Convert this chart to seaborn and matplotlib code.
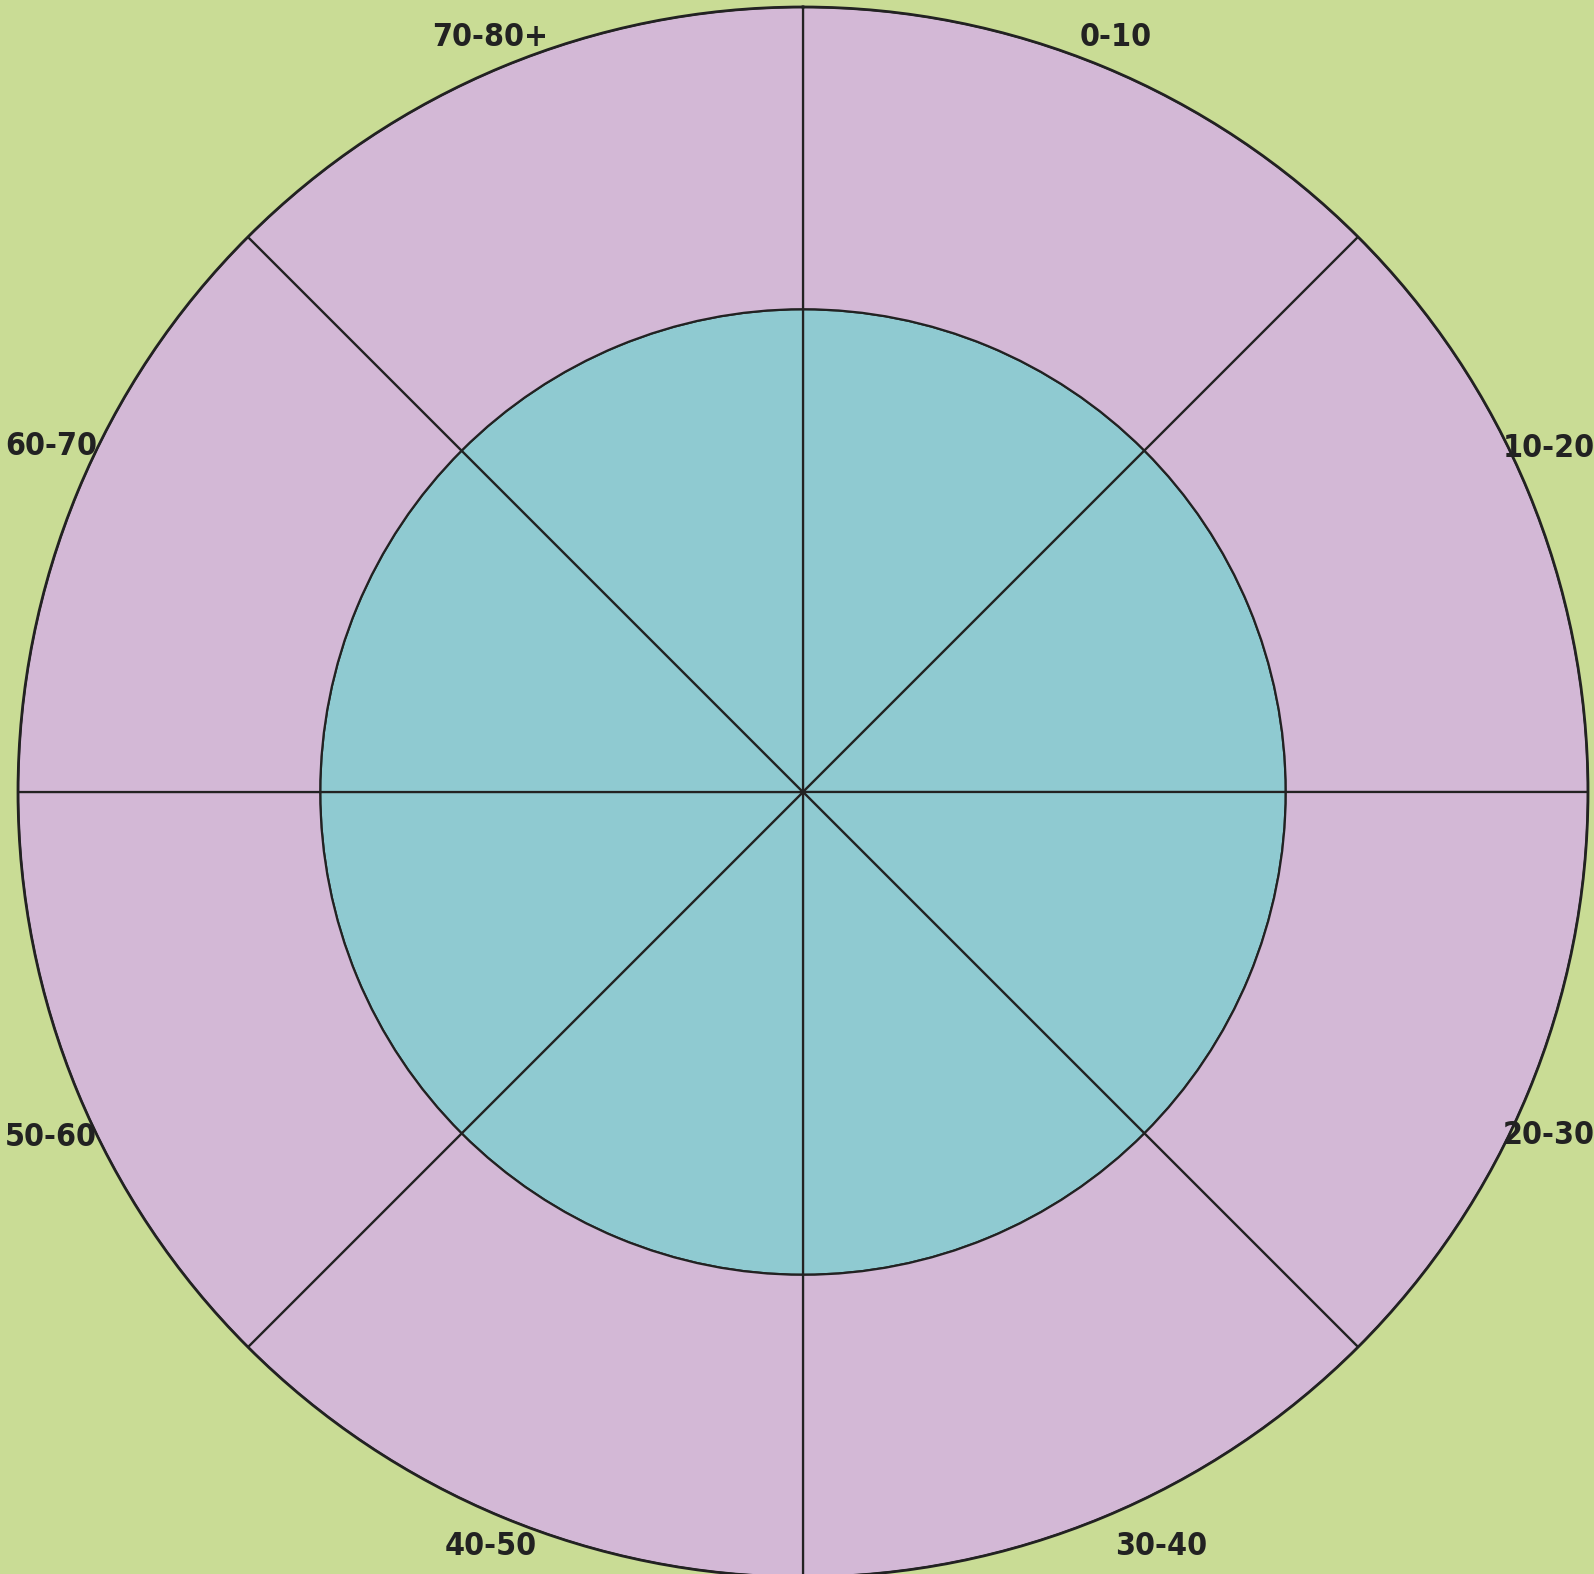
import numpy as np
import matplotlib
matplotlib.use("Agg")
import matplotlib.pyplot as plt
import seaborn as sns

# data
age_groups = ['0-10', '10-20', '20-30', '30-40', '40-50', '50-60', '60-70', '70-80+']
inner_vals = [61.5, 61.5, 61.5, 61.5, 61.5, 61.5, 61.5, 61.5]
outer_vals = [38.5, 38.5, 38.5, 38.5, 38.5, 38.5, 38.5, 38.5]

bg = '#c9dc95'
inner_col = '#8fcad1'
outer_col = '#d3b8d6'

sns.set_style('white')
plt.rcParams['font.family'] = ['DejaVu Sans']

fig = plt.figure(figsize=(15.94, 15.74), dpi=100, facecolor=bg)
ax = fig.add_axes([18 / 1594, -3 / 1574, 1570 / 1594, 1570 / 1574], projection='polar')
ax.set_facecolor(bg)
ax.set_theta_zero_location('N')
ax.set_theta_direction(-1)

n = len(age_groups)
theta = np.arange(n) * 2 * np.pi / n + np.pi / n
width = 2 * np.pi / n

ax.bar(theta, inner_vals, width=width, color=inner_col, edgecolor='#222222', linewidth=1.6)
ax.bar(theta, outer_vals, width=width, bottom=inner_vals, color=outer_col,
       edgecolor='#222222', linewidth=1.6)

rmax = max(i + o for i, o in zip(inner_vals, outer_vals))
ax.set_ylim(0, rmax)
ax.set_xticks([])
ax.set_yticks([])
ax.grid(False)
ax.spines['polar'].set_linewidth(2.0)
ax.spines['polar'].set_color('#222222')

# label placement: top/bottom labels near the circle, side labels pushed to the edges
for t, lab in zip(theta, age_groups):
    deg = np.degrees(t)
    if 45 < deg < 135:
        ha, r = 'right', 1.092
    elif 225 < deg < 315:
        ha, r = 'left', 1.1
    elif 135 < deg < 180:
        ha, r = 'left', 1.04
    else:
        ha, r = 'center', 1.04
    if 45 < deg < 90 or 270 < deg < 315:
        va = 'bottom'
    elif 90 < deg < 135 or 225 < deg < 270:
        va = 'top'
    else:
        va = 'center'
    ax.text(t, rmax * r, lab, ha=ha, va=va, fontsize=23,
            fontweight='bold', fontstretch='condensed', color='#222222')

fig.savefig('out.png', dpi=100, facecolor=bg)
